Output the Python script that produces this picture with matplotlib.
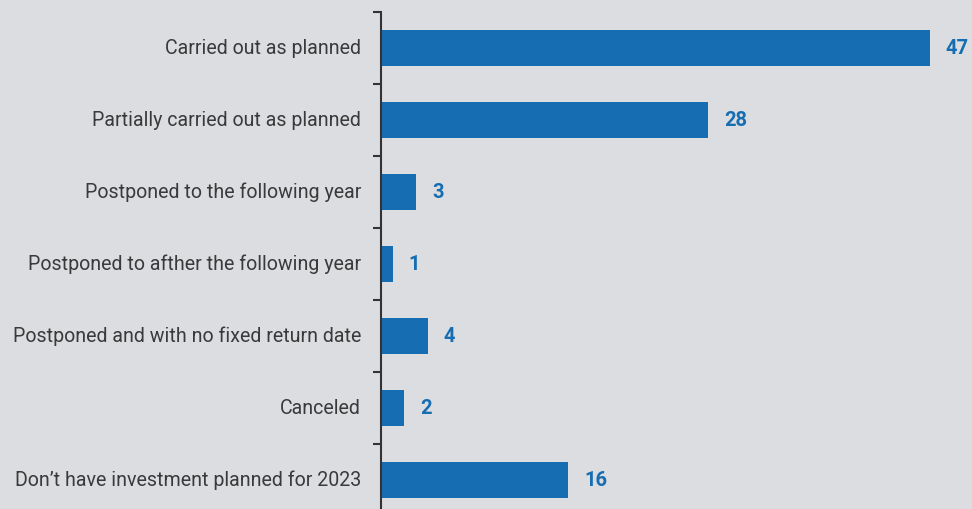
import matplotlib
matplotlib.use("Agg")
import matplotlib.pyplot as plt

categories = [
    "Carried out as planned",
    "Partially carried out as planned",
    "Postponed to the following year",
    "Postponed to afther the following year",
    "Postponed and with no fixed return date",
    "Canceled",
    "Don\u2019t have investment planned for 2023",
]
values = [47, 28, 3, 1, 4, 2, 16]

bg = "#dcdde0"
bar_color = "#176db2"
text_color = "#3a3a3a"

fig = plt.figure(figsize=(9.72, 5.09), dpi=100, facecolor=bg)
ax = fig.add_axes([381/972, 0, 1 - 381/972, 1 - 12.5/509])
ax.set_facecolor(bg)

y = list(range(len(categories)))
ax.barh(y, values, height=0.5, color=bar_color)
ax.set_ylim(6.4, -0.5)
ax.set_xlim(0, (972 - 381) / 11.68)

for yi, v in zip(y, values):
    ax.annotate(str(v), (v, yi), xytext=(16, 0), textcoords="offset pixels",
                ha="left", va="center", fontsize=14.5, fontweight="bold",
                color=bar_color, family="Roboto")

for s in ["top", "right", "bottom"]:
    ax.spines[s].set_visible(False)
ax.spines["left"].set_color("#333333")
ax.spines["left"].set_linewidth(1.5)

ax.set_xticks([])
ax.set_yticks([i - 0.5 for i in range(len(categories))])
ax.set_yticklabels([])
ax.tick_params(axis="y", length=6, width=1.5, color="#333333")

for yi, c in zip(y, categories):
    ax.annotate(c, (0, yi), xytext=(-20, 0), textcoords="offset pixels",
                ha="right", va="center", fontsize=14.1, color=text_color,
                family="Roboto", annotation_clip=False)

fig.savefig("out.png", dpi=100, facecolor=bg)
